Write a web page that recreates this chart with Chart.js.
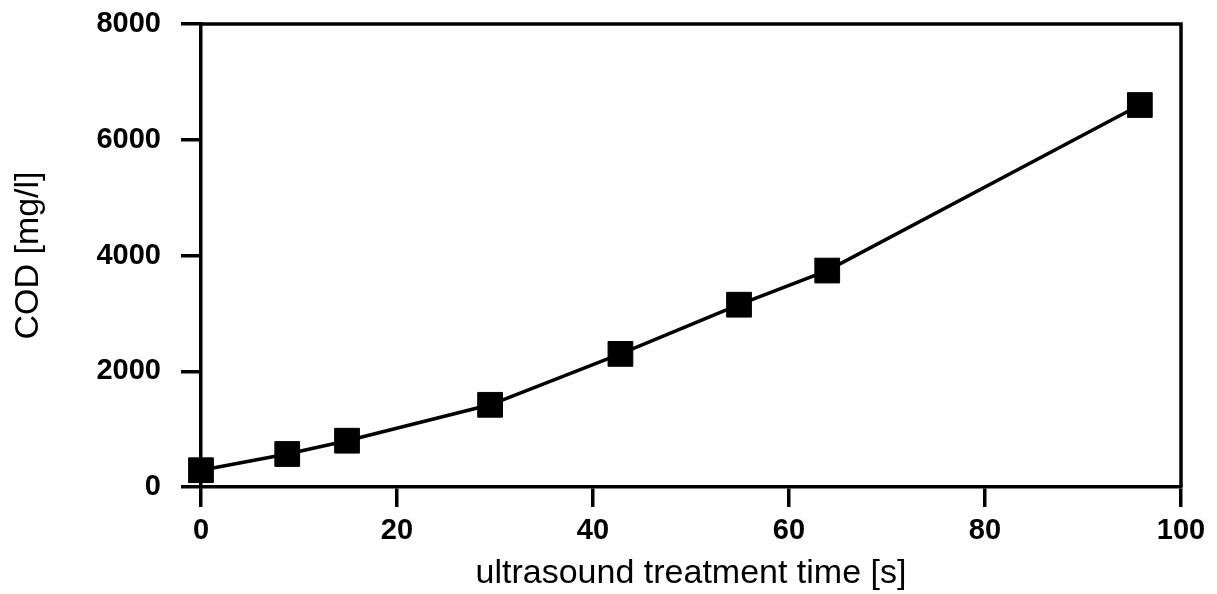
<!DOCTYPE html>
<html>
<head>
<meta charset="utf-8">
<script src="https://cdn.jsdelivr.net/npm/chart.js@4"></script>
<style>
html,body{margin:0;padding:0;background:#fff;}
#wrap{width:1217px;height:594px;position:relative;}
</style>
</head>
<body>
<div id="wrap"><canvas id="c" width="1217" height="594"></canvas></div>
<script>
const timeS = [0, 8.8, 14.9, 29.5, 42.8, 54.9, 63.9, 95.8];
const codMgL = [290, 570, 800, 1420, 2300, 3150, 3740, 6600];
const xTicks = [0, 20, 40, 60, 80, 100];
const yTicks = [0, 2000, 4000, 6000, 8000];

const framePlugin = {
  id: 'frame',
  beforeDatasetsDraw(chart) {
    const a = chart.chartArea, ctx = chart.ctx;
    ctx.save();
    ctx.strokeStyle = '#000';
    ctx.lineWidth = 3.5;
    ctx.beginPath();
    ctx.moveTo(a.left, a.top);
    ctx.lineTo(a.right, a.top);
    ctx.lineTo(a.right, a.bottom);
    ctx.stroke();
    ctx.restore();
  }
};

new Chart(document.getElementById('c'), {
  type: 'scatter',
  data: {
    datasets: [{
      data: timeS.map((t, i) => ({x: t, y: codMgL[i]})),
      showLine: true,
      borderColor: '#000',
      borderWidth: 3.5,
      backgroundColor: '#000',
      pointStyle: 'rect',
      pointRadius: 17.5,
      pointBorderWidth: 1,
      pointBorderColor: '#000',
      pointBackgroundColor: '#000',
      clip: false
    }]
  },
  options: {
    responsive: false,
    animation: false,
    layout: {padding: {top: 24, right: 36, left: 0, bottom: 0}},
    plugins: {legend: {display: false}, tooltip: {enabled: false}},
    scales: {
      x: {
        type: 'linear',
        min: 0, max: 100,
        afterBuildTicks(s) { s.ticks = xTicks.map(v => ({value: v})); },
        afterFit(s) { s.height = 107; s.paddingLeft = 0; s.paddingRight = 0; s.paddingTop = 0; s.paddingBottom = 0; },
        grid: {drawOnChartArea: false, drawTicks: true, tickLength: 20, lineWidth: 3.5, color: '#000'},
        border: {display: true, width: 3.5, color: '#000'},
        ticks: {color: '#000', padding: 7, maxRotation: 0,
          callback: v => String(v),
          font: {family: 'Liberation Sans', size: 29, weight: 'bold'}},
        title: {display: true, text: 'ultrasound treatment time [s]', color: '#000',
          padding: {top: 3, bottom: 0},
          font: {family: 'Liberation Sans', size: 34, weight: 'normal'}}
      },
      y: {
        type: 'linear',
        min: 0, max: 8000,
        afterBuildTicks(s) { s.ticks = yTicks.map(v => ({value: v})); },
        afterFit(s) { s.width = 201; s.paddingTop = 0; s.paddingBottom = 0; s.paddingLeft = 0; s.paddingRight = 0; },
        grid: {drawOnChartArea: false, drawTicks: true, tickLength: 20, lineWidth: 3.5, color: '#000'},
        border: {display: true, width: 3.5, color: '#000'},
        ticks: {color: '#000', padding: 20,
          callback: v => String(v),
          font: {family: 'Liberation Sans', size: 29, weight: 'bold'}},
        title: {display: true, text: 'COD [mg/l]', color: '#000',
          padding: {top: 8, bottom: 0},
          font: {family: 'Liberation Sans', size: 34, weight: 'normal'}}
      }
    }
  },
  plugins: [framePlugin]
});
</script>
</body>
</html>
